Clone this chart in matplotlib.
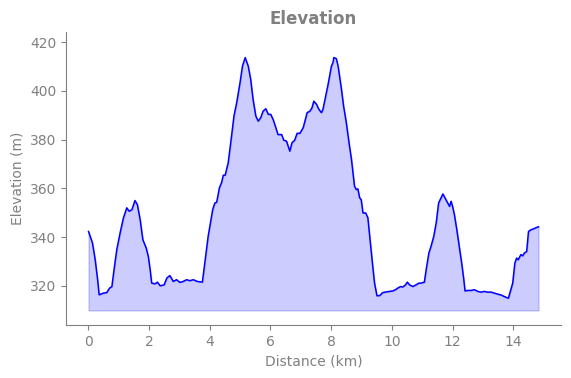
import numpy as np
import matplotlib
matplotlib.use("Agg")
import matplotlib.pyplot as plt

# distance along the route (km) and elevation (m)
dist = [0.01, 0.14, 0.23, 0.31, 0.36, 0.50, 0.61, 0.70, 0.78, 0.85, 0.94, 1.05, 1.16, 1.27, 1.35, 1.44,
        1.54, 1.62, 1.71, 1.80, 1.91, 1.98, 2.04, 2.09, 2.20, 2.28, 2.37, 2.50, 2.59, 2.69, 2.80, 2.91,
        3.02, 3.13, 3.24, 3.35, 3.46, 3.59, 3.76, 3.84, 3.95, 4.10, 4.17, 4.23, 4.32, 4.39, 4.45, 4.51,
        4.61, 4.72, 4.80, 4.89, 5.00, 5.08, 5.17, 5.27, 5.35, 5.43, 5.52, 5.60, 5.68, 5.76, 5.85, 5.93,
        6.01, 6.09, 6.18, 6.25, 6.37, 6.44, 6.53, 6.64, 6.71, 6.80, 6.88, 6.97, 7.08, 7.21, 7.30, 7.37,
        7.43, 7.52, 7.60, 7.68, 7.73, 7.82, 7.90, 8.01, 8.06, 8.09, 8.17, 8.23, 8.34, 8.41, 8.50, 8.59,
        8.67, 8.72, 8.77, 8.83, 8.88, 8.94, 8.99, 9.05, 9.14, 9.21, 9.27, 9.36, 9.43, 9.51, 9.60, 9.70,
        9.82, 9.92, 10.03, 10.12, 10.20, 10.29, 10.36, 10.45, 10.51, 10.58, 10.69, 10.80, 10.89, 10.96,
        11.07, 11.13, 11.22, 11.29, 11.38, 11.46, 11.54, 11.62, 11.68, 11.75, 11.84, 11.90, 11.95, 12.00,
        12.06, 12.14, 12.22, 12.30, 12.37, 12.41, 12.50, 12.61, 12.72, 12.83, 12.94, 13.05, 13.15, 13.27,
        13.37, 13.48, 13.60, 13.70, 13.84, 13.87, 13.98, 14.05, 14.11, 14.16, 14.25, 14.31, 14.36, 14.44,
        14.50, 14.58, 14.69, 14.77, 14.83]
elev = [342.3, 337.6, 330.7, 322.5, 316.3, 317.0, 317.2, 319.0, 319.7, 326.6, 334.8, 341.7, 347.9, 352.0, 350.6, 351.3,
        355.0, 353.3, 347.2, 338.9, 335.5, 332.0, 326.6, 321.1, 320.8, 321.5, 320.0, 320.4, 323.2, 324.2, 321.8, 322.5,
        321.4, 321.8, 322.5, 322.1, 322.5, 321.8, 321.5, 329.3, 340.3, 351.3, 354.0, 354.3, 360.2, 362.3, 365.4, 365.4,
        370.5, 381.4, 389.7, 395.2, 403.4, 410.2, 413.7, 410.2, 404.8, 396.5, 389.7, 387.6, 389.0, 391.7, 392.7, 390.4,
        390.4, 388.3, 384.9, 382.1, 382.1, 379.8, 379.4, 375.3, 378.7, 379.8, 382.6, 382.6, 384.9, 391.1, 391.7, 393.1,
        395.8, 394.5, 392.4, 391.1, 392.4, 397.9, 402.7, 410.2, 411.6, 413.7, 413.3, 410.2, 400.7, 393.8, 387.0, 378.7,
        371.9, 366.4, 360.9, 359.5, 359.8, 356.1, 355.4, 349.9, 349.9, 347.9, 340.3, 329.3, 321.1, 315.9, 316.0, 317.2,
        317.5, 317.7, 317.9, 318.4, 319.1, 319.7, 319.5, 320.4, 321.5, 320.4, 319.7, 320.4, 321.1, 321.1,
        321.5, 326.6, 333.5, 336.2, 340.3, 345.8, 354.0, 356.1, 357.7, 356.1, 354.0, 352.6, 354.7, 352.6,
        349.2, 343.0, 336.2, 329.3, 322.5, 317.9, 318.1, 318.1, 318.4, 317.7, 317.4, 317.7, 317.4, 317.4,
        317.0, 316.6, 316.2, 315.6, 314.9, 316.3, 321.1, 329.3, 331.4, 330.7, 332.8, 332.3, 333.4, 334.1,
        342.3, 343.0, 343.5, 344.0, 344.2]

dist = np.array(dist)
elev = np.array(elev)

fig = plt.figure(figsize=(5.71, 3.78), dpi=100)
ax = fig.add_axes([0.1156, 0.1402, 0.8669, 0.7751])

ax.plot(dist, elev, color='blue', linewidth=1.1)
ax.fill_between(dist, elev, elev.min() - 5, color='blue', alpha=0.2)

ax.set_ylim(elev.min() - 11, elev.max() + 10.5)
ax.set_xticks([0, 2, 4, 6, 8, 10, 12, 14])
ax.set_yticks([320, 340, 360, 380, 400, 420])

grey = 'grey'
ax.set_title('Elevation', fontsize=12, fontweight='bold', color=grey)
ax.set_xlabel('Distance (km)', color=grey)
ax.set_ylabel('Elevation (m)', color=grey)
ax.tick_params(colors=grey)
for s in ['top', 'right']:
    ax.spines[s].set_visible(False)
for s in ['left', 'bottom']:
    ax.spines[s].set_color(grey)

plt.savefig('out.png', dpi=100)
